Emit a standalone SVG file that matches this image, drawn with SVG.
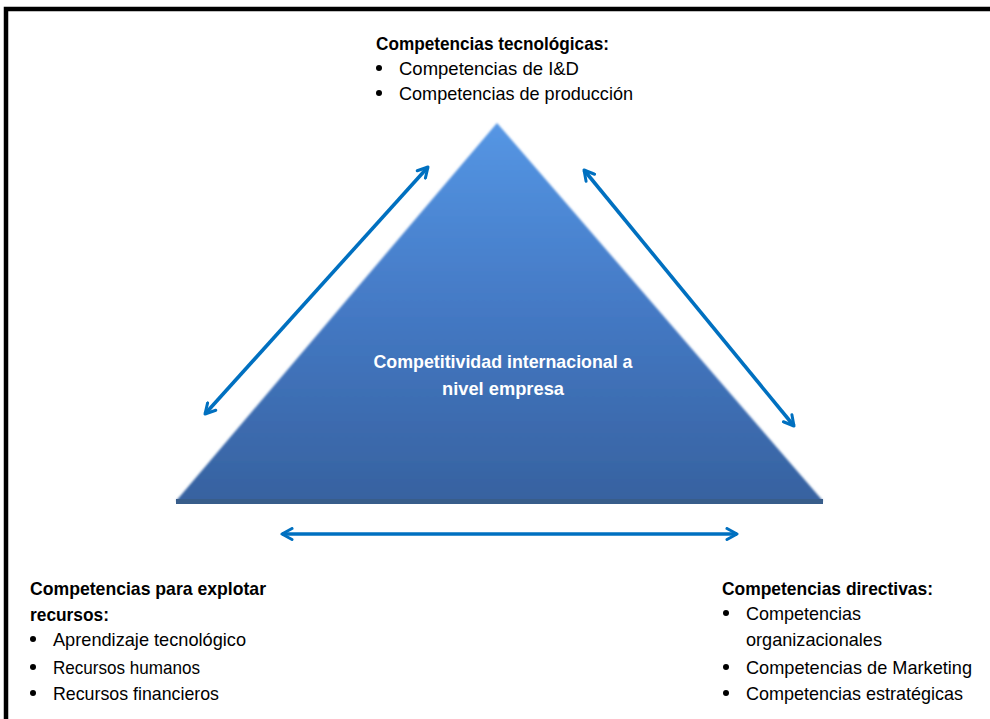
<svg xmlns="http://www.w3.org/2000/svg" width="990" height="719" viewBox="0 0 990 719">
<defs>
<linearGradient id="tri" x1="0" y1="0" x2="0" y2="1">
<stop offset="0" stop-color="#5596e4"/>
<stop offset="0.5" stop-color="#4479c4"/>
<stop offset="1" stop-color="#3762a0"/>
</linearGradient>
<marker id="head" viewBox="0 0 14 14" refX="12" refY="7" markerWidth="14" markerHeight="14" markerUnits="userSpaceOnUse" orient="auto-start-reverse">
<path d="M2,1.5 L12,7 L2,12.5" fill="none" stroke="#0070c0" stroke-width="3" stroke-linecap="round" stroke-linejoin="round"/>
</marker>
<filter id="soft" x="-5%" y="-5%" width="110%" height="110%">
<feGaussianBlur stdDeviation="1"/>
</filter>
</defs>
<style>
.t{font-family:"Liberation Sans",Arial,sans-serif;font-size:19px;fill:#000}
.b{font-weight:bold}
.w{fill:#fff;font-weight:bold}
.conn{stroke:#0070c0;stroke-width:3.6;fill:none;marker-start:url(#head);marker-end:url(#head)}
</style>
<rect x="6" y="9" width="1000" height="730" fill="#fff" stroke="#000" stroke-width="4.5"/>
<g id="triangle">
<polygon points="497,123 176,501 823,501" fill="url(#tri)" filter="url(#soft)"/>
<rect x="176" y="499" width="647" height="5" fill="#385d8a"/>
<text class="t w" x="503" y="368" text-anchor="middle" textLength="259" lengthAdjust="spacingAndGlyphs">Competitividad internacional a</text>
<text class="t w" x="503" y="395" text-anchor="middle" textLength="122" lengthAdjust="spacingAndGlyphs">nivel empresa</text>
</g>
<g id="connectors">
<line class="conn" x1="205" y1="414" x2="428" y2="167"/>
<line class="conn" x1="584" y1="170" x2="794" y2="426"/>
<line class="conn" x1="282" y1="534" x2="737" y2="534"/>
</g>
<g id="tecnologicas">
<text class="t b" x="376" y="50" textLength="233" lengthAdjust="spacingAndGlyphs">Competencias tecnológicas:</text>
<circle cx="379" cy="68" r="3"/>
<text class="t" x="399" y="75" textLength="180" lengthAdjust="spacingAndGlyphs">Competencias de I&amp;D</text>
<circle cx="379" cy="93" r="3"/>
<text class="t" x="399" y="100" textLength="234" lengthAdjust="spacingAndGlyphs">Competencias de producción</text>
</g>
<g id="explotar">
<text class="t b" x="30" y="595" textLength="236" lengthAdjust="spacingAndGlyphs">Competencias para explotar</text>
<text class="t b" x="30" y="621" textLength="79" lengthAdjust="spacingAndGlyphs">recursos:</text>
<circle cx="33" cy="639" r="3"/>
<text class="t" x="53" y="646" textLength="193" lengthAdjust="spacingAndGlyphs">Aprendizaje tecnológico</text>
<circle cx="33" cy="667" r="3"/>
<text class="t" x="53" y="674" textLength="147" lengthAdjust="spacingAndGlyphs">Recursos humanos</text>
<circle cx="33" cy="693" r="3"/>
<text class="t" x="53" y="700" textLength="166" lengthAdjust="spacingAndGlyphs">Recursos financieros</text>
</g>
<g id="directivas">
<text class="t b" x="722" y="595" textLength="211" lengthAdjust="spacingAndGlyphs">Competencias directivas:</text>
<circle cx="726" cy="613" r="3"/>
<text class="t" x="746" y="620" textLength="115" lengthAdjust="spacingAndGlyphs">Competencias</text>
<text class="t" x="746" y="646" textLength="136" lengthAdjust="spacingAndGlyphs">organizacionales</text>
<circle cx="726" cy="667" r="3"/>
<text class="t" x="746" y="674" textLength="226" lengthAdjust="spacingAndGlyphs">Competencias de Marketing</text>
<circle cx="726" cy="693" r="3"/>
<text class="t" x="746" y="700" textLength="217" lengthAdjust="spacingAndGlyphs">Competencias estratégicas</text>
</g>
</svg>
